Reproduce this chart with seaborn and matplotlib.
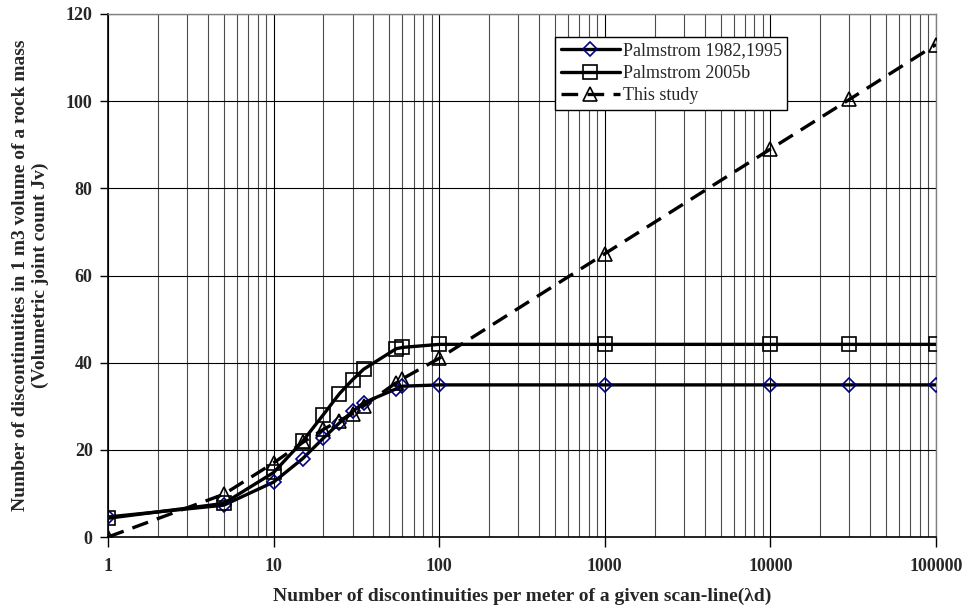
import numpy as np
import pandas as pd
import matplotlib
matplotlib.use("Agg")
import matplotlib.pyplot as plt
import seaborn as sns
from matplotlib.ticker import LogLocator, FixedLocator, NullFormatter, FixedFormatter

sns.set_theme(style="white")
plt.rcParams['font.family'] = ['Liberation Serif', 'DejaVu Serif']

# ---- data ----
x_vals = [1, 5, 10, 15, 20, 25, 30, 35, 55, 60, 100, 1000, 10000, 30000, 100000]
palm_1995 = [4.6, 7.3, 12.6, 18.0, 22.7, 26.2, 28.8, 30.8, 34.0, 34.6, 34.9, 34.9, 34.9, 34.9, 34.9]
palm_2005 = [4.3, 7.7, 14.8, 22.0, 28.1, 32.9, 36.1, 38.5, 43.2, 43.5, 44.2, 44.2, 44.2, 44.2, 44.2]
this_study = [0.0, 9.8, 17.0, 21.7, 24.7, 26.7, 28.3, 30.1, 35.4, 36.3, 41.0, 65.0, 89.0, 100.4, 113.0]
series_names = ["Palmstrom 1982,1995", "Palmstrom 2005b", "This study"]
x_tick_labels = ["1", "10", "100", "1000", "10000", "100000"]
y_ticks = [0, 20, 40, 60, 80, 100, 120]

fig = plt.figure(figsize=(9.69, 6.12), dpi=100)
ax = fig.add_axes([108/969, 1 - 537/612, (936 - 108)/969, (537 - 14)/612])

styles = [
    dict(marker="D", mec="#000080", ms=7.5, dashes=None),
    dict(marker="s", mec="black", ms=9.5, dashes=None),
    dict(marker="^", mec="black", ms=9.5, dashes=(5, 2.8)),
]
for name, vals, st in zip(series_names, [palm_1995, palm_2005, this_study], styles):
    df = pd.DataFrame({"x": x_vals, "y": vals})
    line_kws = dict(color="black", lw=2.4, marker=st["marker"], markersize=st["ms"],
                    markerfacecolor="none", markeredgecolor=st["mec"], markeredgewidth=1.2,
                    label=name, zorder=3)
    sns.lineplot(data=df, x="x", y="y", ax=ax, estimator=None, sort=False, **line_kws)
    if st["dashes"] is not None:
        ax.lines[-1].set_dashes(st["dashes"])

ax.set_xscale("log")
ax.set_xlim(1, 100000)
ax.set_ylim(0, 120)

# grid
ax.xaxis.set_major_locator(FixedLocator([1, 10, 100, 1000, 10000, 100000]))
ax.xaxis.set_major_formatter(FixedFormatter(x_tick_labels))
ax.xaxis.set_minor_locator(LogLocator(base=10, subs=np.arange(2, 10)))
ax.xaxis.set_minor_formatter(NullFormatter())
ax.set_yticks(y_ticks)
ax.grid(True, which="major", axis="both", color="black", lw=0.8)
ax.grid(True, which="minor", axis="x", color="0.3", lw=0.8)
ax.set_axisbelow(True)

ax.tick_params(axis="x", which="major", direction="out", length=7, width=1, color="black",
               pad=8, labelsize=13, bottom=True)
ax.tick_params(axis="x", which="minor", length=0, bottom=False)
ax.tick_params(axis="y", which="major", direction="out", length=6, width=1, color="black",
               pad=5, labelsize=13, left=True)
for lab in ax.get_xticklabels() + ax.get_yticklabels():
    lab.set_fontweight("bold")

for side in ["left", "bottom"]:
    ax.spines[side].set_color("black")
    ax.spines[side].set_linewidth(1.2)
for side in ["top", "right"]:
    ax.spines[side].set_color("0.5")
    ax.spines[side].set_linewidth(1.0)

ax.set_xlabel("Number of discontinuities per meter of a given scan-line(λd)",
              fontsize=14, fontweight="bold", labelpad=9)
ax.set_ylabel("Number of discontinuities in 1 m3 volume of a rock mass\n(Volumetric joint count Jv)",
              fontsize=14, fontweight="bold", labelpad=12, linespacing=1.25)

leg = ax.legend(loc="upper left", bbox_to_anchor=(0.540, 0.956), borderaxespad=0,
                frameon=True, fancybox=False, fontsize=13, handlelength=3.3,
                handletextpad=0.15, borderpad=0.3, labelspacing=0.3)
leg.get_frame().set_edgecolor("black")
leg.get_frame().set_linewidth(1.0)
leg.get_frame().set_alpha(1)

fig.savefig("out.png", dpi=100)
